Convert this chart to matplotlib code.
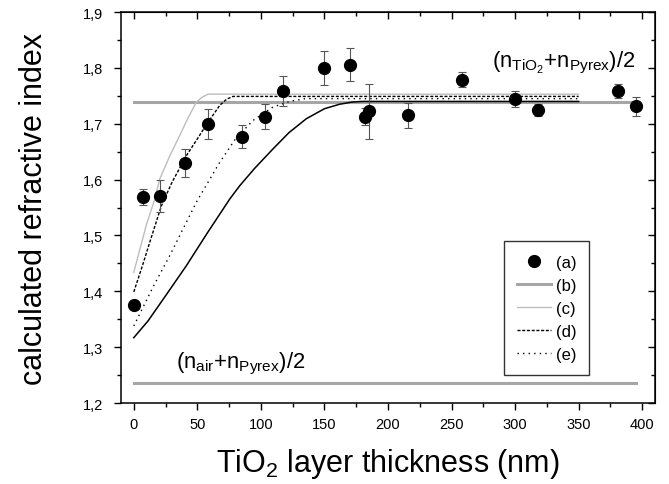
import matplotlib
matplotlib.use("Agg")
import matplotlib.pyplot as plt
from matplotlib.ticker import MultipleLocator, FuncFormatter
from matplotlib.lines import Line2D

plt.rcParams['font.family'] = ['Liberation Sans', 'DejaVu Sans']
plt.rcParams['mathtext.fontset'] = 'custom'
plt.rcParams['mathtext.rm'] = 'Liberation Sans'
plt.rcParams['mathtext.it'] = 'Liberation Sans'

# (a) measured points
xa = [0, 7, 21, 40, 58, 85, 103, 117, 150, 170, 182, 185, 216, 258, 300, 318, 381, 395]
ya = [1.376, 1.569, 1.571, 1.629, 1.700, 1.677, 1.713, 1.759, 1.800, 1.806,
      1.713, 1.722, 1.715, 1.779, 1.744, 1.725, 1.759, 1.731]
ea = [0.007, 0.015, 0.029, 0.025, 0.027, 0.020, 0.023, 0.027, 0.030, 0.029,
      0.016, 0.050, 0.023, 0.014, 0.014, 0.011, 0.013, 0.017]

# (b) reference levels
xb = [0, 395]
yb_high = [1.739, 1.739]
yb_low = [1.235, 1.235]

# (c) light grey model
xc = [0, 5, 10, 16.5, 20.4, 28, 36.1, 43, 49.3, 54, 58.4, 350]
yc = [1.434, 1.477, 1.520, 1.565, 1.601, 1.641, 1.679, 1.712, 1.739, 1.748, 1.753, 1.753]

# (d) dashed model
xd = [0, 6.8, 13.4, 21.7, 30, 41.4, 50, 57.6, 67.6, 73, 78, 350]
yd = [1.399, 1.446, 1.494, 1.553, 1.595, 1.643, 1.673, 1.700, 1.733, 1.744, 1.749, 1.749]

# (e) dotted model
xe = [0, 15.2, 28.3, 49.3, 67.6, 80, 93.8, 109.5, 122.6, 135, 350]
ye = [1.338, 1.408, 1.464, 1.560, 1.631, 1.673, 1.706, 1.730, 1.740, 1.745, 1.745]

# black solid model
xs = [0, 11.2, 25, 41.4, 58, 75.4, 83.3, 95, 109.5, 122, 135.7, 150, 161.9, 172, 180, 350]
ys = [1.317, 1.347, 1.392, 1.446, 1.505, 1.565, 1.589, 1.620, 1.655, 1.684, 1.709,
      1.727, 1.735, 1.739, 1.740, 1.740]

legend_labels = ['(a)', '(b)', '(c)', '(d)', '(e)']

fig = plt.figure(figsize=(6.69, 4.85), dpi=100)
ax = fig.add_axes([0.181, 0.167, 0.798, 0.806])

ax.plot(xb, yb_high, color='#a6a6a6', lw=2.2, zorder=2)
ax.plot(xb, yb_low, color='#a6a6a6', lw=2.2, zorder=2)
ax.plot(xc, yc, color='#bdbdbd', lw=1.0, zorder=3)
ax.plot(xs, ys, color='black', lw=1.1, zorder=3)
ax.plot(xd, yd, color='black', lw=1.0, linestyle=(0, (2.2, 1.2)), zorder=3)
ax.plot(xe, ye, color='black', lw=1.0, linestyle=(0, (1, 3)), zorder=3)
ax.errorbar(xa, ya, yerr=ea, fmt='o', color='black', ms=8.5, ecolor='#555555',
            elinewidth=0.8, capsize=3, capthick=0.8, zorder=5)

ax.set_xlim(-10, 410)
ax.set_ylim(1.2, 1.9)
ax.xaxis.set_major_locator(MultipleLocator(50))
ax.xaxis.set_minor_locator(MultipleLocator(25))
ax.yaxis.set_major_locator(MultipleLocator(0.1))
ax.yaxis.set_minor_locator(MultipleLocator(0.05))
ax.yaxis.set_major_formatter(FuncFormatter(lambda v, p: ('%.1f' % v).replace('.', ',')))
ax.tick_params(which='both', direction='out', top=False, right=False, labelsize=10.5)
ax.tick_params(which='major', length=5, width=1)
ax.tick_params(which='minor', length=3, width=1)
ax.tick_params(axis='x', pad=5)
ax.tick_params(axis='y', pad=8)
for s in ax.spines.values():
    s.set_linewidth(1.1)

secx = ax.secondary_xaxis('top')
secx.xaxis.set_major_locator(MultipleLocator(50))
secx.xaxis.set_minor_locator(MultipleLocator(25))
secx.tick_params(which='both', direction='in', labeltop=False)
secx.tick_params(which='major', length=5, width=1)
secx.tick_params(which='minor', length=3, width=1)
secy = ax.secondary_yaxis('right')
secy.yaxis.set_major_locator(MultipleLocator(0.1))
secy.yaxis.set_minor_locator(MultipleLocator(0.05))
secy.tick_params(which='both', direction='in', labelright=False)
secy.tick_params(which='major', length=5, width=1)
secy.tick_params(which='minor', length=3, width=1)

ax.set_xlabel(r'TiO$_2$ layer thickness (nm)', fontsize=22, labelpad=11)
ax.set_ylabel('calculated refractive index', fontsize=22, labelpad=24)

ax.text(282, 1.803, r'$(\mathrm{n}_{\mathrm{TiO}_2}\mathrm{+n}_{\mathrm{Pyrex}})\mathrm{/2}$',
        fontsize=15.8, ha='left', va='baseline')
ax.text(33, 1.263, r'$(\mathrm{n}_{\mathrm{air}}\mathrm{+n}_{\mathrm{Pyrex}})\mathrm{/2}$',
        fontsize=15.8, ha='left', va='baseline')

handles = [
    Line2D([], [], marker='o', color='black', linestyle='none', ms=8.5),
    Line2D([], [], color='#a6a6a6', lw=2.2),
    Line2D([], [], color='#bdbdbd', lw=1.0),
    Line2D([], [], color='black', lw=1.0, linestyle=(0, (2.2, 1.2))),
    Line2D([], [], color='black', lw=1.0, linestyle=(0, (1, 3))),
]
leg = ax.legend(handles, legend_labels, loc='upper left', bbox_to_anchor=(0.717, 0.414),
                borderaxespad=0, fontsize=12, frameon=True, fancybox=False,
                edgecolor='black', handlelength=2.0, handletextpad=0.3,
                labelspacing=0.48, borderpad=0.8, markerfirst=True)
leg.get_frame().set_linewidth(1.0)

fig.savefig('out.png', dpi=100)
